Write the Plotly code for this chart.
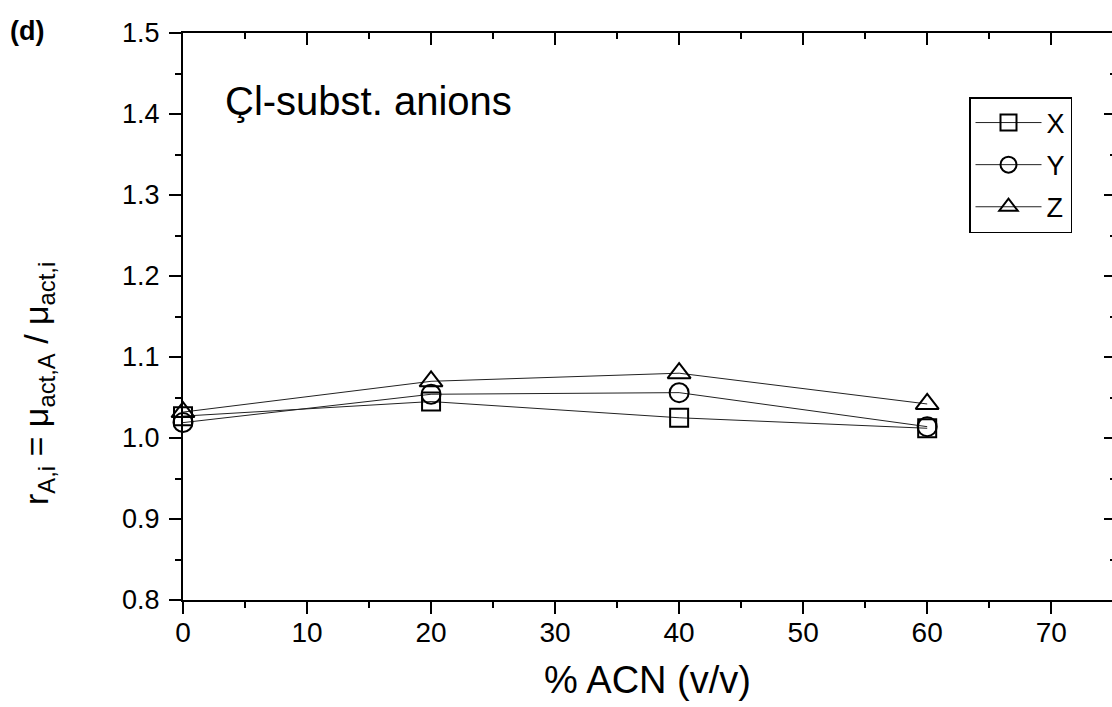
import plotly.graph_objects as go

# % ACN (v/v)
acn = [0, 20, 40, 60]

# r_A,i for the three Cl-substituted anions
r_x = [1.027, 1.045, 1.025, 1.012]
r_y = [1.019, 1.054, 1.056, 1.014]
r_z = [1.032, 1.070, 1.080, 1.042]

series_names = ["X", "Y", "Z"]
symbols = ["square-open", "circle-open", "triangle-up-open"]
sizes = [18, 19, 20]

W, H = 1112, 707
L, R, T, B = 183, 0, 33, 107
X_RANGE = [0, 74.9]
Y_RANGE = [0.8, 1.5]
FONT = "Liberation Sans, Arial, Helvetica, sans-serif"

fig = go.Figure()
for name, ys, sym, sz in zip(series_names, [r_x, r_y, r_z], symbols, sizes):
    fig.add_trace(go.Scatter(
        x=acn, y=ys, name=name, legendgroup=name,
        mode="lines+markers",
        line=dict(color="#222222", width=1),
        marker=dict(symbol=sym, size=sz, color="black", line=dict(color="black", width=2)),
        cliponaxis=False,
    ))

# empty trace so the mirrored top/right axes get drawn
fig.add_trace(go.Scatter(x=[], y=[], xaxis="x2", yaxis="y2", showlegend=False, hoverinfo="skip"))

axis_common = dict(showgrid=False, zeroline=False, linecolor="black", linewidth=2,
                   tickcolor="black", tickwidth=2)

fig.update_layout(
    width=W, height=H,
    margin=dict(l=L, r=R, t=T, b=B),
    paper_bgcolor="white", plot_bgcolor="white",
    font=dict(family=FONT, color="black"),
    xaxis=dict(range=X_RANGE, dtick=10, tick0=0, ticks="outside", ticklen=12,
               showline=True, tickfont=dict(size=28), ticklabelstandoff=-6,
               minor=dict(dtick=5, tick0=0, ticks="outside", ticklen=6, tickwidth=2, tickcolor="black"),
               title=dict(text="% ACN (v/v)", font=dict(size=38), standoff=20),
               **axis_common),
    yaxis=dict(range=Y_RANGE, dtick=0.1, tick0=0.8, tickformat=".1f", ticks="outside", ticklen=12,
               showline=True, tickfont=dict(size=27), ticklabelstandoff=4,
               minor=dict(dtick=0.05, tick0=0.8, ticks="outside", ticklen=6, tickwidth=2, tickcolor="black"),
               **axis_common),
    xaxis2=dict(overlaying="x", side="top", anchor="y", range=X_RANGE, dtick=10, tick0=0,
                ticks="inside", ticklen=12, showline=True, showticklabels=False,
                minor=dict(dtick=5, tick0=0, ticks="inside", ticklen=6, tickwidth=2, tickcolor="black"),
                **axis_common),
    yaxis2=dict(overlaying="y", side="right", anchor="x", range=Y_RANGE, dtick=0.1, tick0=0.8,
                ticks="inside", ticklen=8, showline=False, showticklabels=False,
                minor=dict(dtick=0.05, tick0=0.8, ticks="inside", ticklen=2, tickwidth=2, tickcolor="black"),
                showgrid=False, zeroline=False, tickcolor="black", tickwidth=2),
    legend=dict(x=(969 - L) / (W - L - R), y=(H - B - 97) / (H - T - B),
                xanchor="left", yanchor="top",
                bordercolor="black", borderwidth=1.5, bgcolor="white",
                font=dict(size=27), tracegroupgap=4, itemwidth=66),
    showlegend=True,
)

pw, ph = W - L - R, H - T - B
fig.add_annotation(text="Çl-subst. anions", xref="paper", yref="paper",
                   x=(223 - L) / pw, y=(H - B - 101) / ph, xanchor="left", yanchor="middle",
                   showarrow=False, font=dict(size=40))
fig.add_annotation(text="r<sub>A,i</sub> = μ<sub>act,A</sub> / μ<sub>act,i</sub>",
                   xref="paper", yref="paper", textangle=-90,
                   x=(38 - L) / pw, y=(H - B - 384) / ph, xanchor="center", yanchor="middle",
                   showarrow=False, font=dict(size=34))
fig.add_annotation(text="<b>(d)</b>", xref="paper", yref="paper",
                   x=(8 - L) / pw, y=(H - B - 31) / ph, xanchor="left", yanchor="middle",
                   showarrow=False, font=dict(size=27))

fig.write_html("out.html")
